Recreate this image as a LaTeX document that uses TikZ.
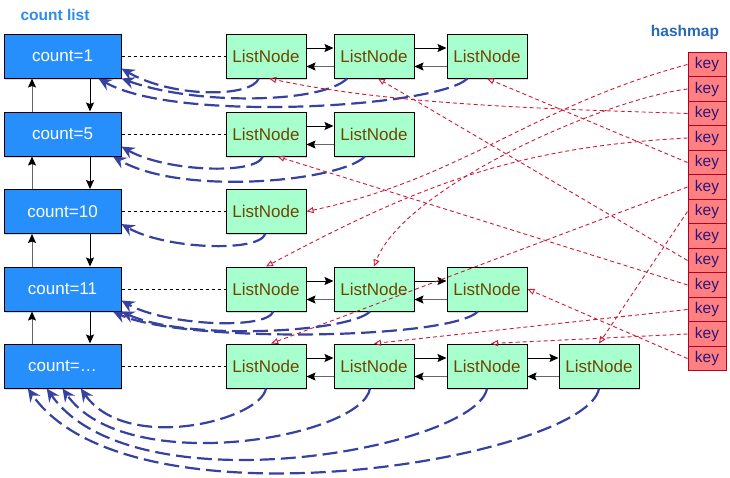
\documentclass[tikz,border=0pt]{standalone}
\usepackage{fontspec}
\setmainfont{Liberation Sans}
\usetikzlibrary{arrows.meta,shadows}
\definecolor{cntblue}{RGB}{38,143,252}
\definecolor{nodegreen}{RGB}{166,255,204}
\definecolor{nodebrown}{RGB}{110,70,0}
\definecolor{keyfill}{RGB}{255,128,128}
\definecolor{keyline}{RGB}{180,0,40}
\definecolor{keytext}{RGB}{45,20,120}
\definecolor{backblue}{RGB}{55,65,160}
\definecolor{hashred}{RGB}{205,25,55}
\definecolor{listblue}{RGB}{45,140,235}
\definecolor{mapblue}{RGB}{40,105,180}

\begin{document}
\begin{tikzpicture}[x=1pt,y=-1pt,
  box/.style={draw=black,line width=1pt,inner sep=0pt,drop shadow={opacity=0.3,shadow xshift=1.2pt,shadow yshift=-1.5pt}},
  cnt/.style={box,fill=cntblue,text=white,minimum width=117pt,minimum height=44pt,font=\fontsize{17}{20}\selectfont},
  lnode/.style={box,fill=nodegreen,text=nodebrown,minimum width=80pt,minimum height=44pt,font=\fontsize{17}{20}\selectfont},
  keybox/.style={draw=keyline,line width=1pt,fill=keyfill,text=keytext,minimum width=38pt,minimum height=24.5pt,inner sep=0pt,font=\fontsize{15.5}{18}\selectfont},
  title/.style={font=\bfseries\fontsize{15.5}{18}\selectfont},
  fwd/.style={line width=1pt,-{Stealth[length=9pt,width=8pt,inset=1.5pt]}},
  bwd/.style={draw=black!60,line width=1pt,-{Stealth[length=9pt,width=8pt,inset=1.5pt,color=black]}},
  link/.style={line width=0.8pt,dash pattern=on 3pt off 3pt},
  back/.style={draw=backblue,line width=2.2pt,dash pattern=on 15pt off 6pt,-{Stealth[length=13pt,width=12pt,inset=4.5pt]}},
  hash/.style={draw=hashred,line width=0.9pt,dash pattern=on 4pt off 3pt,-{Triangle[open,length=7pt,width=6pt]}}]
\useasboundingbox (0,0) rectangle (730,477);
\node[title,text=listblue] (cl) at (55,15) {count list};
\node[title,text=mapblue] (hm) at (685,32) {hashmap};
\foreach \i/\y/\t in {1/56/1,2/134/5,3/211.5/10,4/289/11,5/366/…}
  \node[cnt] (c\i) at (62.5,\y) {count=\t};
\foreach \r/\y/\m in {1/56/3,2/134/2,3/211.5/1,4/289/3,5/366/4}
  \foreach \c/\x in {1/266,2/374,3/487,4/599}
    {\ifnum\c>\m\else\node[lnode] (n\r\c) at (\x,\y) {ListNode};\fi}
\foreach \i in {1,...,13}
  \node[keybox] (k\i) at (707,{40+24.5*\i}) {key};
\foreach \i in {1,...,5}
  \draw[link] (c\i) -- (n\i1);
\foreach \i/\j in {1/2,2/3,3/4,4/5} {
  \draw[fwd] ([xshift=27.5pt]c\i.south) -- ([xshift=27.5pt]c\j.north);
  \draw[bwd] ([xshift=-30.5pt]c\j.north) -- ([xshift=-30.5pt]c\i.south);
}
\foreach \a/\b in {11/12,12/13,21/22,41/42,42/43,51/52,52/53,53/54} {
  \draw[fwd] ([yshift=8pt]n\a.east) -- ([yshift=8pt]n\b.west);
  \draw[bwd] ([yshift=-10.5pt]n\b.west) -- ([yshift=-10.5pt]n\a.east);
}
\draw[back] (n11.-108) to[out=-110,in=-30,out distance=20pt,in distance=60pt] (c1.-12);
\draw[back] (n12.-140) to[out=-135,in=-20,out distance=35pt,in distance=80pt] (c1.south east);
\draw[back] (n13.-131) to[out=-135,in=-30,out distance=40pt,in distance=90pt] (c1.-32);
\draw[back] (n21.-98) to[out=-110,in=-30,out distance=20pt,in distance=50pt] (c2.-12);
\draw[back] (n22.-112) to[out=-135,in=-30,out distance=35pt,in distance=80pt] (c2.-24);
\draw[back] (n31.-92) to[out=-110,in=-30,out distance=20pt,in distance=50pt] (c3.-12);
\draw[back] (n41.-72) to[out=-110,in=-30,out distance=20pt,in distance=50pt] (c4.-11);
\draw[back] (n42.-100) to[out=-135,in=-25,out distance=30pt,in distance=70pt] (c4.south east);
\draw[back] (n43.-112) to[out=-135,in=-25,out distance=40pt,in distance=75pt] (c4.-24);
\draw[back] (n51.south) to[out=-100,in=-55,out distance=32pt,in distance=80pt] (c5.-51);
\draw[back] (n52.-100) to[out=-100,in=-55,out distance=50pt,in distance=110pt] (c5.south);
\draw[back] (n53.south) to[out=-100,in=-55,out distance=60pt,in distance=150pt] (c5.-125);
\draw[back] (n54.south) to[out=-100,in=-55,out distance=70pt,in distance=180pt] (c5.-147);
\draw[hash] (k1.west) to[out=195,in=12] (n31.east);
\draw[hash] (k2.west) to[out=187,in=69,looseness=0.6] (n42.north);
\draw[hash] (k3.west) to[out=178,in=-12,looseness=0.8] (n11.-82);
\draw[hash] (k4.west) to[out=183,in=28] (n41.north);
\draw[hash] (k5.west) -- (n13.south);
\draw[hash] (k6.west) -- (n51.77);
\draw[hash] (k7.west) -- (n54.north);
\draw[hash] (k9.west) -- (n12.-80);
\draw[hash] (k10.west) -- (n21.-63);
\draw[hash] (k11.west) -- (n52.north);
\draw[hash] (k12.west) -- (n53.80);
\draw[hash] (k13.west) -- (n43.east);
\end{tikzpicture}
\end{document}
